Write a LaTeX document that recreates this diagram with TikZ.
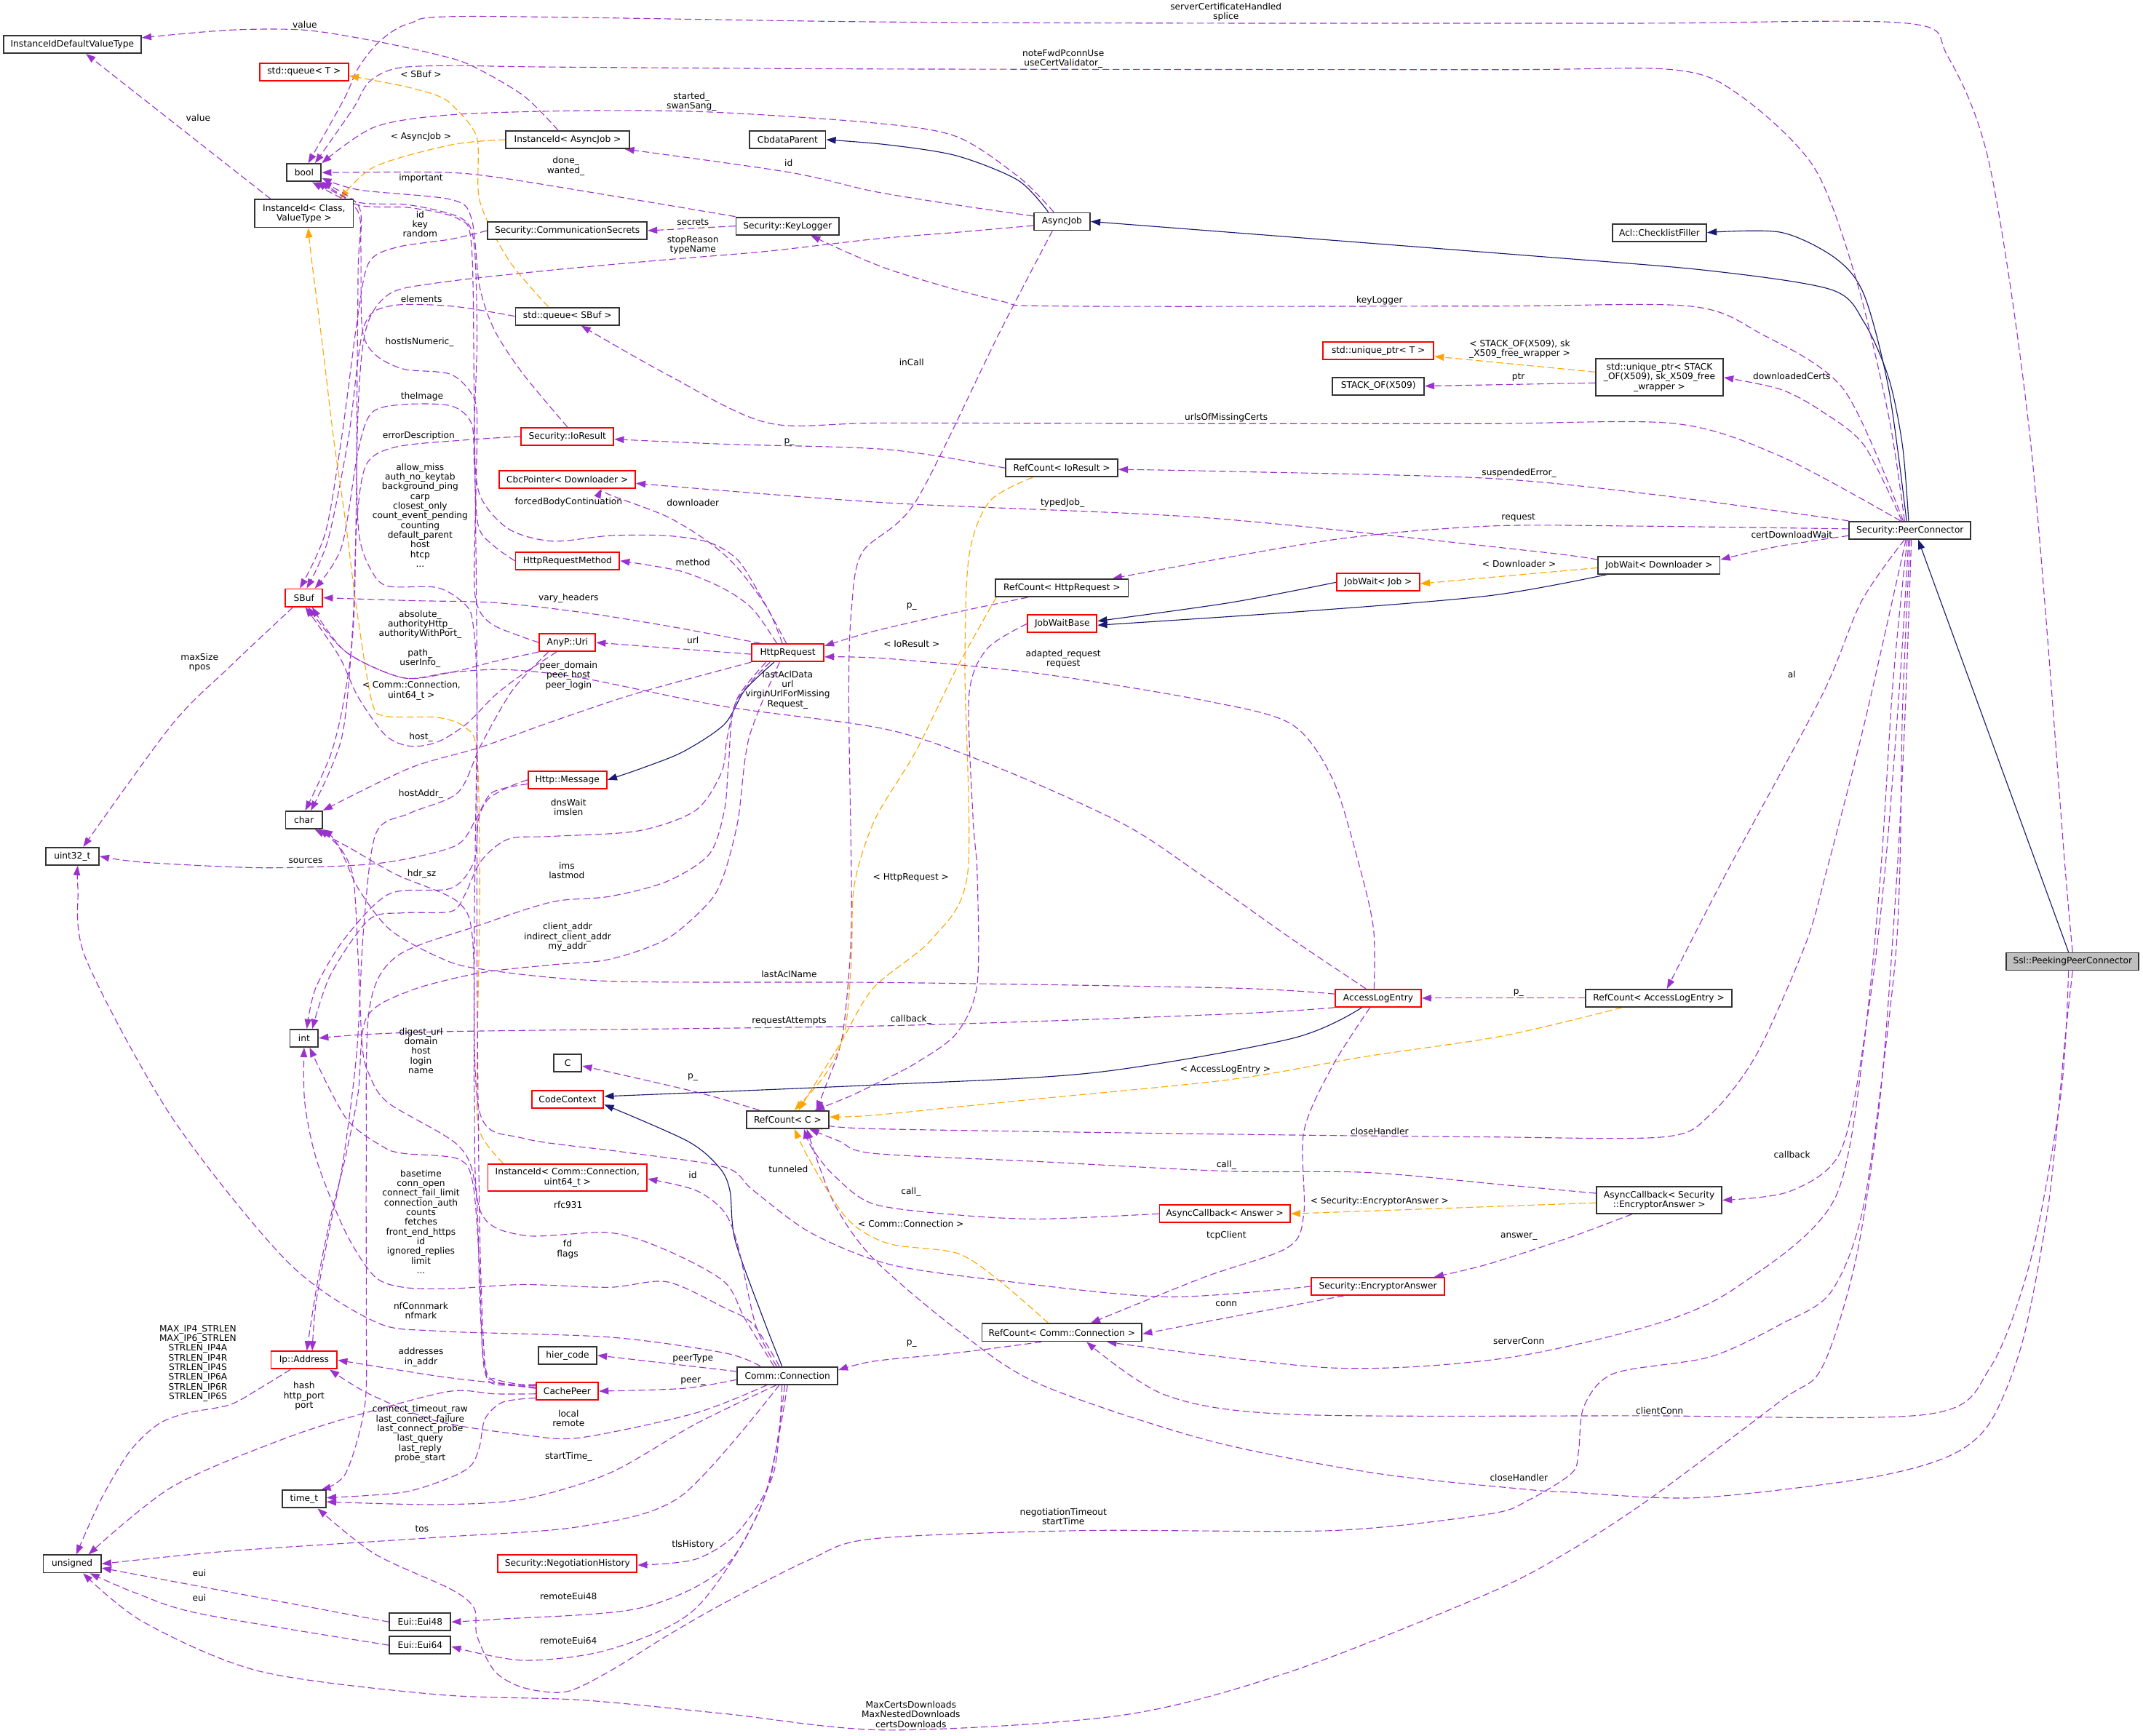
\documentclass[tikz,border=0pt]{standalone}
\usepackage{fontspec}
\setmainfont{DejaVu Sans}
\usetikzlibrary{arrows.meta}
\definecolor{purp}{HTML}{9A32CD}
\definecolor{navy}{HTML}{191970}
\definecolor{orng}{HTML}{FFA500}
\newcommand{\dv}{\fontsize{6.5}{7.1}\selectfont}
\pgfdeclarelayer{bg}
\pgfsetlayers{bg,main}
\tikzset{
  cls/.style={draw=black!80, line width=1pt, fill=white, font=\dv, align=center, inner sep=0pt, minimum height=12.8pt},
  rcls/.style={cls, draw=red},
  root/.style={cls, fill=black!25},
  lbl/.style={font=\dv, align=center, inner sep=0pt},
  mbr/.style={purp, line width=0.6pt, dash pattern=on 5pt off 2.5pt, -{Triangle[length=7pt,width=5pt]}},
  tpl/.style={orng, line width=0.6pt, dash pattern=on 5pt off 2.5pt, -{Triangle[length=7pt,width=5pt]}},
  inh/.style={navy, line width=0.6pt, -{Triangle[length=7pt,width=5pt]}},
}
\begin{document}
\begin{tikzpicture}[x=1pt,y=-1pt]
\useasboundingbox (0,0) rectangle (1568,1270);

% classes
\node[cls, minimum width=100.7pt] (iidvt) at (52.9,32.5) {InstanceIdDefaultValueType};
\node[rcls, minimum width=65pt] (qT) at (222.5,52.5) {std::queue< T >};
\node[cls, minimum width=25pt] (bool) at (222.5,126.3) {bool};
\node[cls, minimum width=72pt, minimum height=20.3pt] (iicv) at (222.5,156.2) {InstanceId< Class,\\ValueType >};
\node[cls, minimum width=90.6pt] (iiaj) at (415.3,102.2) {InstanceId< AsyncJob >};
\node[cls, minimum width=55.5pt] (cbdp) at (576.3,102.2) {CbdataParent};
\node[cls, minimum width=116.6pt] (csec) at (415.1,168.8) {Security::CommunicationSecrets};
\node[cls, minimum width=75.3pt] (klog) at (576.2,165.4) {Security::KeyLogger};
\node[cls, minimum width=41.2pt] (ajob) at (777,162.1) {AsyncJob};
\node[cls, minimum width=68.7pt] (aclcf) at (1214.2,170.2) {Acl::ChecklistFiller};
\node[cls, minimum width=76pt] (qsbuf) at (415.2,231.4) {std::queue< SBuf >};
\node[rcls, minimum width=81pt] (upT) at (1008.5,256.8) {std::unique\_ptr< T >};
\node[cls, minimum width=67pt] (stack) at (1008.5,282.5) {STACK\_OF(X509)};
\node[cls, minimum width=93.3pt, minimum height=27pt] (upstack) at (1214.2,276.2) {std::unique\_ptr< STACK\\\_OF(X509), sk\_X509\_free\\\_wrapper >};
\node[rcls, minimum width=67.6pt] (ior) at (415.2,319.4) {Security::IoResult};
\node[cls, minimum width=81.8pt] (rcior) at (776.9,342.5) {RefCount< IoResult >};
\node[rcls, minimum width=99.4pt] (cbcd) at (415.1,350.7) {CbcPointer< Downloader >};
\node[cls, minimum width=89pt] (pc) at (1397.5,388) {Security::PeerConnector};
\node[rcls, minimum width=76pt] (hrm) at (415.2,410.4) {HttpRequestMethod};
\node[cls, minimum width=97pt] (rchr) at (777,430.2) {RefCount< HttpRequest >};
\node[cls, minimum width=89pt] (jwd) at (1213.9,413.5) {JobWait< Downloader >};
\node[rcls, minimum width=60.7pt] (jwj) at (1008.4,426.1) {JobWait< Job >};
\node[rcls, minimum width=27.2pt] (sbuf) at (222.4,437.4) {SBuf};
\node[rcls, minimum width=50.7pt] (jwb) at (777.2,456.5) {JobWaitBase};
\node[rcls, minimum width=41pt] (uri) at (415.2,470.2) {AnyP::Uri};
\node[rcls, minimum width=52.7pt] (hreq) at (576.4,477.7) {HttpRequest};
\node[rcls, minimum width=57.6pt] (hmsg) at (415.2,570.7) {Http::Message};
\node[cls, minimum width=26.8pt] (chr) at (222.4,600) {char};
\node[cls, minimum width=39pt] (u32) at (52.9,626.6) {uint32\_t};
\node[root, minimum width=97pt] (ssl) at (1516.5,703.6) {Ssl::PeekingPeerConnector};
\node[rcls, minimum width=62.7pt] (ale) at (1008.4,730.4) {AccessLogEntry};
\node[cls, minimum width=107pt] (rcale) at (1213.7,730.4) {RefCount< AccessLogEntry >};
\node[cls, minimum width=20.6pt] (int) at (222.5,759.7) {int};
\node[cls, minimum width=20.6pt] (cC) at (415.3,778) {C};
\node[rcls, minimum width=52.6pt] (cctx) at (415.3,804.3) {CodeContext};
\node[cls, minimum width=60.5pt] (rcc) at (576.3,819.3) {RefCount< C >};
\node[rcls, minimum width=116.4pt, minimum height=19.8pt] (iicc) at (415.2,861.7) {InstanceId< Comm::Connection,\\uint64\_t >};
\node[cls, minimum width=91.6pt, minimum height=19.6pt] (acsea) at (1214,878.2) {AsyncCallback< Security\\::EncryptorAnswer >};
\node[rcls, minimum width=95.6pt] (aca) at (896.2,888.2) {AsyncCallback< Answer >};
\node[rcls, minimum width=97.2pt] (ea) at (1008.2,941.3) {Security::EncryptorAnswer};
\node[cls, minimum width=117pt] (rccc) at (777,975.1) {RefCount< Comm::Connection >};
\node[cls, minimum width=42.6pt] (hier) at (415.3,991.8) {hier\_code};
\node[rcls, minimum width=48.4pt] (ipa) at (222.5,995.3) {Ip::Address};
\node[cls, minimum width=73.3pt] (conn) at (576.2,1006.6) {Comm::Connection};
\node[rcls, minimum width=45.5pt] (cpeer) at (415,1018) {CachePeer};
\node[cls, minimum width=32pt] (timet) at (222.5,1097) {time\_t};
\node[cls, minimum width=42.3pt] (uns) at (52.8,1144.4) {unsigned};
\node[rcls, minimum width=101.7pt] (neg) at (415.2,1144.3) {Security::NegotiationHistory};
\node[cls, minimum width=44.7pt] (eui48) at (307.4,1186.9) {Eui::Eui48};
\node[cls, minimum width=44.7pt] (eui64) at (307.4,1203.9) {Eui::Eui64};

% edge labels
\node[lbl] (lSrvCert) at (897,9) {serverCertificateHandled\\splice};
\node[lbl] (lFwd) at (778,43) {noteFwdPconnUse\\useCertValidator\_};
\node[lbl] (lVal1) at (223,18) {value};
\node[lbl] (lVal2) at (145,86) {value};
\node[lbl] (lQsb) at (308,54.3) {< SBuf >};
\node[lbl] (lStart) at (506,74.5) {started\_\\swanSang\_};
\node[lbl] (lAJ) at (308,100) {< AsyncJob >};
\node[lbl] (lJobId) at (577,119) {id};
\node[lbl] (lDone) at (414,121.5) {done\_\\wanted\_};
\node[lbl] (lImp) at (308,130.5) {important};
\node[lbl] (lSec) at (507,162.5) {secrets};
\node[lbl] (lIdKey) at (307.4,164) {id\\key\\random};
\node[lbl] (lStop) at (507,179.5) {stopReason\\typeName};
\node[lbl] (lElem) at (308.4,219) {elements};
\node[lbl] (lKeyLog) at (1009.4,220) {keyLogger};
\node[lbl] (lHostNum) at (307,250.5) {hostIsNumeric\_};
\node[lbl] (lStack) at (1112,255.4) {< STACK\_OF(X509), sk\\\_X509\_free\_wrapper >};
\node[lbl] (lInCall) at (667,265) {inCall};
\node[lbl] (lDlCerts) at (1311,275.4) {downloadedCerts};
\node[lbl] (lPtr) at (1111,275.8) {ptr};
\node[lbl] (lImage) at (308.8,290.5) {theImage};
\node[lbl] (lUrls) at (897.2,305.5) {urlsOfMissingCerts};
\node[lbl] (lErrDesc) at (306.3,319) {errorDescription};
\node[lbl] (lIorP) at (577.4,323.5) {p\_};
\node[lbl] (lSusp) at (1111.5,346.2) {suspendedError\_};
\node[lbl] (lForced) at (416,367.3) {forcedBodyContinuation};
\node[lbl] (lDownl) at (507,367.7) {downloader};
\node[lbl] (lTyped) at (777.4,367.8) {typedJob\_};
\node[lbl] (lAllow) at (307.4,377) {allow\_miss\\auth\_no\_keytab\\background\_ping\\carp\\closest\_only\\count\_event\_pending\\counting\\default\_parent\\host\\htcp\\...};
\node[lbl] (lReq) at (1111,378.8) {request};
\node[lbl] (lCertDW) at (1311,391.4) {certDownloadWait};
\node[lbl] (lMethod) at (507,411.7) {method};
\node[lbl] (lDownT) at (1111.5,412.6) {< Downloader >};
\node[lbl] (lVary) at (416,437.6) {vary\_headers};
\node[lbl] (lHrP) at (667,444) {p\_};
\node[lbl] (lAbs) at (307.4,467.7) {absolute\_\\authorityHttp\_\\authorityWithPort\_\\\mbox{}\\path\_\\userInfo\_};
\node[lbl] (lUrl) at (507,468.3) {url};
\node[lbl] (lIorT) at (667,471.3) {< IoResult >};
\node[lbl] (lAdapt) at (778,482.3) {adapted\_request\\request};
\node[lbl] (lMaxSz) at (146,484.8) {maxSize\\npos};
\node[lbl] (lAl) at (1311,493.7) {al};
\node[lbl] (lPeerDom) at (416,494.5) {peer\_domain\\peer\_host\\peer\_login};
\node[lbl] (lAclData) at (576.3,504.7) {lastAclData\\url\\virginUrlForMissing\\Request\_};
\node[lbl] (lIiccT) at (301,505.5) {< Comm::Connection,\\uint64\_t >};
\node[lbl] (lHost) at (308,539.5) {host\_};
\node[lbl] (lHostAddr) at (308,581) {hostAddr\_};
\node[lbl] (lDns) at (416,590.7) {dnsWait\\imslen};
\node[lbl] (lSrc) at (223.6,630) {sources};
\node[lbl] (lIms) at (414.7,636.9) {ims\\lastmod};
\node[lbl] (lHdr) at (308.6,639.7) {hdr\_sz};
\node[lbl] (lHrT) at (666.5,642) {< HttpRequest >};
\node[lbl] (lClient) at (415.3,685.8) {client\_addr\\indirect\_client\_addr\\my\_addr};
\node[lbl] (lAclName) at (577.4,713) {lastAclName};
\node[lbl] (lAleP) at (1111,726.3) {p\_};
\node[lbl] (lCbk) at (666.5,746) {callback\_};
\node[lbl] (lReqAtt) at (577.4,747) {requestAttempts};
\node[lbl] (lDigest) at (308,769) {digest\_url\\domain\\host\\login\\name};
\node[lbl] (lAleT) at (896.6,782.7) {< AccessLogEntry >};
\node[lbl] (lCP) at (506.9,788.5) {p\_};
\node[lbl] (lClose1) at (1009.4,827.8) {closeHandler};
\node[lbl] (lCallback) at (1311.2,844.7) {callback};
\node[lbl] (lCall1) at (897.3,852.7) {call\_};
\node[lbl] (lTunnel) at (576.8,855.8) {tunneled};
\node[lbl] (lConnId) at (506.9,860) {id};
\node[lbl] (lCall2) at (666.5,872) {call\_};
\node[lbl] (lEaT) at (1009.4,878.9) {< Security::EncryptorAnswer >};
\node[lbl] (lRfc) at (415.7,881.5) {rfc931};
\node[lbl] (lBase) at (308,894) {basetime\\conn\_open\\connect\_fail\_limit\\connection\_auth\\counts\\fetches\\front\_end\_https\\id\\ignored\_replies\\limit\\...};
\node[lbl] (lCcT) at (666.5,895.4) {< Comm::Connection >};
\node[lbl] (lTcp) at (897.3,904.2) {tcpClient};
\node[lbl] (lAnswer) at (1111.3,904.6) {answer\_};
\node[lbl] (lFd) at (415.3,914.3) {fd\\flags};
\node[lbl] (lConn) at (897.3,954) {conn};
\node[lbl] (lNf) at (308,959) {nfConnmark\\nfmark};
\node[lbl] (lSrvConn) at (1111.3,981.5) {serverConn};
\node[lbl] (lCcP) at (667,983) {p\_};
\node[lbl] (lAddr) at (308,993.2) {addresses\\in\_addr};
\node[lbl] (lPeerType) at (507,994) {peerType};
\node[lbl] (lMaxIp) at (144.8,997.6) {MAX\_IP4\_STRLEN\\MAX\_IP6\_STRLEN\\STRLEN\_IP4A\\STRLEN\_IP4R\\STRLEN\_IP4S\\STRLEN\_IP6A\\STRLEN\_IP6R\\STRLEN\_IP6S};
\node[lbl] (lPeer) at (507,1010.7) {peer\_};
\node[lbl] (lHash) at (222.5,1021.6) {hash\\http\_port\\port};
\node[lbl] (lCliConn) at (1214.3,1032.2) {clientConn};
\node[lbl] (lLocal) at (416,1037.9) {local\\remote};
\node[lbl] (lConnT) at (307.4,1049.4) {connect\_timeout\_raw\\last\_connect\_failure\\last\_connect\_probe\\last\_query\\last\_reply\\probe\_start};
\node[lbl] (lStartT) at (416,1066.3) {startTime\_};
\node[lbl] (lClose2) at (1111.3,1081.3) {closeHandler};
\node[lbl] (lNego) at (778,1109.7) {negotiationTimeout\\startTime};
\node[lbl] (lTos) at (308.8,1119) {tos};
\node[lbl] (lTls) at (507,1130.3) {tlsHistory};
\node[lbl] (lEui1) at (145.9,1151) {eui};
\node[lbl] (lEui48) at (416,1168) {remoteEui48};
\node[lbl] (lEui2) at (145.9,1169) {eui};
\node[lbl] (lEui64) at (416,1200.4) {remoteEui64};
\node[lbl] (lMaxC) at (666.5,1254.5) {MaxCertsDownloads\\MaxNestedDownloads\\certsDownloads};

\begin{pgfonlayer}{bg}
% Ssl::PeekingPeerConnector
\draw[inh] ([xshift=-3pt]ssl.north) -- ([xshift=6pt]pc.south);
\draw[mbr] plot[smooth] coordinates {(ssl.north) (1511,635) (1486,326) (1456,122) (1425,41) (1395,17) (1200,17) (900,17) (640,16) (345,12) (300,17) (278,30) (262,50) (252,72) ([xshift=3pt]bool.north)};
\draw[mbr] plot[smooth] coordinates {([xshift=-3pt]ssl.south) (1508,800) (1486,921) (1456,1001) (1410,1035) (1200,1036) (945,1035) (853,1021) ([xshift=18pt]rccc.south)};
\draw[mbr] plot[smooth] coordinates {(ssl.south) (1511,760) (1499,880) (1480,981) (1456,1041) (1425,1066) (1364,1082) (1242,1096) (1150,1092) (1118,1090) (1006,1078) (884,1054) (761,1013) (700,973) (639,921) (610,880) ([xshift=14pt]rcc.south)};

% Security::PeerConnector
\draw[inh] plot[smooth] coordinates {([xshift=-1pt]pc.north) (1392,326) (1382,277) (1364,236) (1340,212) (1250,198) (1118,187) (ajob.east)};
\draw[inh] plot[smooth] coordinates {([xshift=-2.5pt]pc.north) (1382,285) (1364,216) (1343,189) (1303,170) (aclcf.east)};
\draw[mbr] plot[smooth] coordinates {([xshift=-4pt]pc.north) (1382,305) (1358,204) (1327,122) (1272,69) (1224,51) (1089,51) (650,50.5) (400,49) (330,48) (290,50) (270,60) (258,80) ([xshift=8pt]bool.north)};
\draw[mbr] plot[smooth] coordinates {([xshift=-5pt]pc.north) (1349,285) (1288,244) (1236,224) (1089,224) (777,224) (731,220) (650,197) ([xshift=17pt]klog.south)};
\draw[mbr] plot[smooth] coordinates {([xshift=-6pt]pc.north) (1364,326) (1333,301) (1303,285) (upstack.east)};
\draw[mbr] plot[smooth] coordinates {([xshift=-7pt]pc.north) (1303,334) (1226,310) (1089,310) (900,310) (650,309.5) (562,309.5) (488,274) ([xshift=10pt]qsbuf.south)};
\draw[mbr] plot[smooth] coordinates {(pc.north west) (1211,362) (1089,350) (900,345) ([yshift=-1pt]rcior.east)};
\draw[mbr] plot[smooth] coordinates {([yshift=1pt]pc.west) (1200,385) (1089,385) (975,395) ([xshift=-12pt]rchr.north east)};
\draw[mbr] plot[smooth] coordinates {([yshift=-4pt]pc.west) (1300,400) ([yshift=4pt]jwd.east)};
\draw[mbr] plot[smooth] coordinates {([xshift=-4pt]pc.south) (1362,440) (1333,509) (1263,639) ([xshift=6pt]rcale.north)};
\draw[mbr] plot[smooth] coordinates {([xshift=-3pt]pc.south) (1364,530) (1336,639) (1321,691) (1285,772) (1251,816) (1217,832) (1089,832) (900,830) (639,826) ([yshift=-3pt]rcc.east)};
\draw[mbr] plot[smooth] coordinates {([xshift=-2pt]pc.south) (1385,500) (1376,639) (1364,760) (1346,844) (1309,872) (acsea.east)};
\draw[mbr] plot[smooth] coordinates {([xshift=-1pt]pc.south) (1390,500) (1379,639) (1367,740) (1343,876) (1272,941) (1211,969) (1100,994) (975,1001) ([xshift=33pt]rccc.south)};
\draw[mbr] plot[smooth] coordinates {(pc.south) (1392,520) (1390,639) (1385,720) (1364,880) (1340,945) (1303,969) (1251,993) (1181,1005) (1159,1029) (1155,1062) (1150,1078) (1118,1098) (1089,1108) (975,1120) (792,1120) (639,1126) (593,1141) (530,1173) (488,1197) (446,1223) (414,1238) (383,1235) (362,1223) (349,1197) (347,1177) (330,1163) (274,1137) ([xshift=10pt]timet.south)};
\draw[mbr] plot[smooth] coordinates {([xshift=1pt]pc.south) (1394,520) (1388,639) (1376,800) (1358,921) (1333,1001) (1303,1025) (1211,1094) (1150,1134) (1089,1166) (945,1223) (822,1255) (650,1266) (530,1254) (425,1244) (320,1240) (190,1223) (105,1187) ([xshift=8pt]uns.south)};

% AsyncJob and KeyLogger
\draw[inh] plot[smooth] coordinates {([xshift=-10pt]ajob.north) (745,132) (700,114) (650,106) (cbdp.east)};
\draw[mbr] plot[smooth] coordinates {([xshift=-6pt]ajob.north) (746,130) (700,100) (640,90) (520,82) (425,81) (330,84) (274,93) (bool.north east)};
\draw[mbr] plot[smooth] coordinates {([yshift=4pt]ajob.west) (700,150) (639,140) (577,126) ([xshift=-4pt]iiaj.south east)};
\draw[mbr] plot[smooth] coordinates {([yshift=-3pt]ajob.west) (700,170) (639,175) (560,184) (488,190) (400,198) (320,207) (285,215) (268,240) (262,300) (259,450) (252,510) (242,552) ([xshift=1pt]chr.north)};
\draw[mbr] plot[smooth] coordinates {([xshift=-7pt]ajob.south) (731,244) (670,367) (631,404) (623,446) (621,509) (623,648) (622,700) (616,760) (604,795) ([xshift=21pt]rcc.north)};
\draw[mbr] (klog.west) -- (csec.east);
\draw[mbr] plot[smooth] coordinates {(klog.north west) (446,143) (362,129.5) (320,126) (bool.east)};

% left column templates and members
\draw[mbr] plot[smooth] coordinates {(csec.west) (330,175) (290,181) (270,192) (262,230) (250,320) (238,390) ([xshift=-3pt]sbuf.north)};
\draw[mbr] plot[smooth] coordinates {(qsbuf.west) (330,224) (285,224) (266,240) (255,320) (240,395) ([xshift=2pt]sbuf.north)};
\draw[tpl] plot[smooth] coordinates {([xshift=-14pt]qsbuf.north) (372,190) (351,147) (349,101) (332,78) (320,70) (295,63) ([yshift=-3pt]qT.east)};
\draw[tpl] plot[smooth] coordinates {(iiaj.west) (330,106) (274,122) ([xshift=-10pt]iicv.north east)};
\draw[mbr] plot[smooth] coordinates {([xshift=-7pt]iiaj.north) (383,70) (345,48) (320,40) (274,30) (223,22) (168,22) ([yshift=-2pt]iidvt.north east)};
\draw[mbr] ([xshift=12pt]iicv.north west) -- ([xshift=10pt]iidvt.south);
\draw[tpl] plot[smooth] coordinates {([xshift=-47pt]iicc.north) (351,828) (349,786) (351,650) (349,551) (340,532) (320,525) (282,524) (272,513) (261,446) (253,383) (244,320) (236,253) (228,190) ([xshift=3pt]iicv.south)};
\draw[mbr] plot[smooth] coordinates {(ior.north) (383,274) (362,242) (351,210) (345,160) (330,146) (263,139) ([yshift=-4pt]bool.east)};
\draw[mbr] plot[smooth] coordinates {(ior.west) (340,322) (290,327) (268,340) (261,383) (258,460) (250,540) ([xshift=5pt]chr.north)};
\draw[mbr] plot[smooth] coordinates {(hrm.west) (362,400) (350,385) (347,340) (345,310) (330,297) (295,296) (272,302) (262,330) (250,400) ([xshift=8pt]sbuf.north)};
\draw[mbr] plot[smooth] coordinates {([xshift=-8pt]sbuf.south) (168,488) (126,530) ([xshift=8pt]u32.north)};

% RefCount< IoResult >, RefCount< HttpRequest >, JobWait
\draw[mbr] plot[smooth] coordinates {(rcior.west) (650,329) (530,325) ([yshift=-2pt]ior.east)};
\draw[tpl] plot[smooth] coordinates {([xshift=20pt]rcior.south west) (724,367) (709,407) (706,489) (708,639) (682,687) (639,723) (614,765) ([xshift=8pt]rcc.north)};
\draw[mbr] plot[smooth] coordinates {([xshift=-25pt]rchr.south) (700,448) (639,462) ([yshift=5pt]hreq.east)};
\draw[tpl] plot[smooth] coordinates {([xshift=-48pt]rchr.south) (700,489) (670,550) (640,600) (625,648) (623,702) (618,755) (604,786) ([xshift=5pt]rcc.north)};
\draw[mbr] plot[smooth] coordinates {([yshift=4pt]jwd.west) (1119,403) (884,379) (650,368) ([yshift=-3pt]cbcd.east)};
\draw[tpl] ([yshift=-2pt]jwd.west) -- ([yshift=-1pt]jwj.east);
\draw[inh] plot[smooth] coordinates {([xshift=7pt]jwd.south west) (1089,436) (945,448) ([yshift=-1pt]jwb.east)};
\draw[inh] plot[smooth] coordinates {(jwj.west) (900,441) ([yshift=2pt]jwb.east)};
\draw[mbr] plot[smooth] coordinates {(jwb.west) (722,475) (709,509) (712,600) (715,639) (715,720) (700,756) (670,778) (639,794) (620,803) ([xshift=20pt]rcc.north)};
\draw[tpl] ([yshift=4pt]upstack.west) -- ([yshift=-4pt]upT.east);
\draw[mbr] ([yshift=-4pt]upstack.west) -- (stack.east);

% HttpRequest
\draw[mbr] plot[smooth] coordinates {([xshift=-4pt]hreq.north) (562,446) (540,416) (519,397) (488,378) (446,362) ([xshift=25pt]cbcd.south)};
\draw[mbr] plot[smooth] coordinates {([xshift=-8pt]hreq.north) (551,446) (530,431) (498,418) (hrm.east)};
\draw[mbr] plot[smooth] coordinates {([xshift=-1pt]hreq.north) (557,437) (540,410) (519,397) (488,392) (446,392) (404,396) (372,387) (351,362) (347,320) (349,250) (347,180) (338,160) (300,150) (262,148) ([xshift=-4pt]bool.south east)};
\draw[mbr] plot[smooth] coordinates {([xshift=7pt]hreq.north west) (488,458) (425,448) (362,441) (300,439.5) (sbuf.east)};
\draw[mbr] ([yshift=-1pt]hreq.west) -- (uri.east);
\draw[mbr] plot[smooth] coordinates {(hreq.south west) (467,507) (404,528) (351,547) (300,562) (chr.north east)};
\draw[inh] plot[smooth] coordinates {([xshift=-10pt]hreq.south) (545,505) (530,530) (500,550) (470,562) (hmsg.east)};
\draw[mbr] plot[smooth] coordinates {([xshift=-6pt]hreq.south) (548,540) (540,600) (530,639) (519,660) (488,687) (446,702) (404,706) (351,712) (300,725) (268,745) (262,800) (252,850) (242,890) (232,940) ([xshift=2pt]ipa.north)};
\draw[mbr] plot[smooth] coordinates {([xshift=-16pt]hreq.south) (540,510) (532,540) (528,565) (509,593) (467,608) (404,612) (372,614) (352,630) (340,655) (330,667) (295,668) (270,673) (242,713) ([xshift=6pt]int.north)};
\draw[mbr] plot[smooth] coordinates {([xshift=-13pt]hreq.south) (538,515) (533,560) (530,593) (519,625) (488,645) (446,656) (404,660) (351,677) (290,700) (270,740) (268,850) (268,960) (267,1028) (253,1078) ([xshift=-4pt]timet.north east)};

% Http::Message and AnyP::Uri
\draw[mbr] plot[smooth] coordinates {(hmsg.west) (372,576) (357,585) (350,600) (347,630) (330,650) (285,654) (252,687) (231,723) ([xshift=2pt]int.north)};
\draw[mbr] plot[smooth] coordinates {([yshift=-3pt]hmsg.west) (360,580) (348,600) (335,618) (300,628) (263,633) (190,635) (105,631) (u32.east)};
\draw[mbr] plot[smooth] coordinates {(uri.west) (362,458) (350,445) (347,420) (349,320) (347,292) (330,274) (295,270) (274,259) (265,240) (264,180) (262,150) (bool.south east)};
\draw[mbr] plot[smooth] coordinates {(uri.south west) (362,484) (330,492) (295,496) (253,477) ([xshift=6pt]sbuf.south)};
\draw[mbr] plot[smooth] coordinates {([xshift=-8pt]uri.south) (380,495) (362,509) (341,530) (320,543) (300,546) (282,538) (262,510) (248,480) ([xshift=1pt]sbuf.south)};
\draw[mbr] plot[smooth] coordinates {([xshift=-14pt]uri.south) (375,505) (352,545) (335,580) (300,595) (275,610) (266,680) (261,770) (251,850) (240,905) (231,955) ([xshift=6pt]ipa.north)};

% AccessLogEntry
\draw[mbr] (rcale.west) -- (ale.east);
\draw[tpl] plot[smooth] coordinates {([xshift=27pt]rcale.south west) (1100,758) (1000,773) (900,790) (750,805) (640,816) ([yshift=2pt]rcc.east)};
\draw[mbr] plot[smooth] coordinates {([yshift=3pt]ale.west) (900,723) (650,719) (446,718) (351,709) (320,700) (285,680) (262,650) (248,620) ([xshift=-3pt]chr.south east)};
\draw[mbr] plot[smooth] coordinates {(ale.south west) (900,742) (650,750.6) (320,755) (int.east)};
\draw[inh] plot[smooth] coordinates {([xshift=-12pt]ale.south) (945,760) (800,785) (639,794) ([yshift=2pt]cctx.east)};
\draw[mbr] plot[smooth] coordinates {([xshift=-3pt]ale.north) (1005,680) (995,635) (975,570) (945,530) (883,513) (761,493) (650,482) ([yshift=-3pt]hreq.east)};
\draw[mbr] plot[smooth] coordinates {([xshift=-9pt]ale.north) (945,687) (877,639) (822,603) (731,562) (650,534) (530,517) (425,496) (370,490) (330,492) (295,496) (253,477) ([xshift=3pt]sbuf.south)};
\draw[mbr] plot[smooth] coordinates {([xshift=-6pt]ale.south) (975,780) (954,828) (954,888) (942,913) (880,935) ([xshift=21pt]rccc.north)};

% callbacks and answers
\draw[tpl] ([yshift=-2pt]acsea.west) -- (aca.east);
\draw[mbr] plot[smooth] coordinates {([yshift=5pt]acsea.west) (1100,867) (1001,858) (897,857) (760,850) (639,844) (614,835) ([xshift=16pt]rcc.south)};
\draw[mbr] plot[smooth] coordinates {([xshift=-20pt]acsea.south) (1150,905) (1089,925) ([xshift=-8pt]ea.north east)};
\draw[mbr] plot[smooth] coordinates {(aca.west) (761,892) (700,889) (639,881) (610,860) (594,840) ([xshift=12pt]rcc.south)};
\draw[mbr] plot[smooth] coordinates {([xshift=-25pt]ea.south) (915,961) ([yshift=-1pt]rccc.east)};
\draw[mbr] plot[smooth] coordinates {(ea.west) (853,949) (731,937) (650,925) (593,902) (551,871) (530,854) (456,843) (383,833) (351,814) (347,700) (349,509) (347,300) (345,180) (335,160) (300,152) (262,150) ([xshift=-7pt]bool.south east)};

% RefCount< Comm::Connection > and RefCount< C >
\draw[mbr] plot[smooth] coordinates {([xshift=-15pt]rccc.south) (700,990) (640,996) ([yshift=4pt]conn.east)};
\draw[tpl] plot[smooth] coordinates {([xshift=-10pt]rccc.north) (731,937) (700,917) (650,910) (620,892) (593,850) ([xshift=5pt]rcc.south)};
\draw[mbr] plot[smooth] coordinates {([xshift=10pt]rcc.north west) (509,799) ([yshift=-2pt]cC.east)};

% Comm::Connection
\draw[inh] plot[smooth] coordinates {([xshift=-4pt]conn.north) (560,969) (538,908) (534,871) (526,854) (503,835) ([yshift=-4pt]cctx.east)};
\draw[mbr] plot[smooth] coordinates {([xshift=-8pt]conn.north) (553,970) (540,912) (530,887) (509,871) ([yshift=-1pt]iicc.east)};
\draw[mbr] plot[smooth] coordinates {([xshift=-10pt]conn.north) (545,965) (530,938) (488,915) (446,902) (383,904) (351,885) (347,800) (346,690) (335,660) (290,640) (255,620) ([xshift=-6pt]chr.south east)};
\draw[mbr] plot[smooth] coordinates {([xshift=-6pt]conn.north) (551,969) (530,957) (488,938) (446,942) (383,940) (330,943) (295,942) (274,934) (253,902) (232,850) (223,807) (int.south)};
\draw[mbr] plot[smooth] coordinates {([xshift=-20pt]conn.north) (530,990) (446,978.5) (320,974) (274,967) (210,923) (126,818) (63,702) (57,650) ([xshift=4pt]u32.south)};
\draw[mbr] ([yshift=3pt]conn.west) -- (hier.east);
\draw[mbr] plot[smooth] coordinates {([yshift=-3pt]conn.west) (500,1016) (cpeer.east)};
\draw[mbr] plot[smooth] coordinates {([xshift=-15pt]conn.south) (509,1034) (425,1052) (383,1050) (320,1040) (270,1020) ([xshift=-6pt]ipa.south east)};
\draw[mbr] plot[smooth] coordinates {([xshift=-8pt]conn.south) (509,1042) (446,1078) (383,1097) (320,1101) ([yshift=-2pt]timet.east)};
\draw[mbr] plot[smooth] coordinates {([xshift=-6pt]conn.south) (498,1095) (425,1117) (320,1125) (168,1135) (uns.east)};
\draw[mbr] plot[smooth] coordinates {([xshift=-4pt]conn.south) (566,1078) (540,1121) (509,1141) ([yshift=-1pt]neg.east)};
\draw[mbr] plot[smooth] coordinates {([xshift=-2pt]conn.south) (562,1088) (530,1147) (467,1177) (362,1185) (eui48.east)};
\draw[mbr] plot[smooth] coordinates {(conn.south) (557,1102) (509,1177) (446,1207) (383,1215) ([yshift=-1pt]eui64.east)};

% CachePeer
\draw[mbr] plot[smooth] coordinates {([yshift=2pt]cpeer.west) (362,1012) (320,1007) (ipa.east)};
\draw[mbr] plot[smooth] coordinates {([yshift=-2pt]cpeer.west) (362,1020) (330,1018) (274,1032) (210,1052) (126,1088) ([xshift=12pt]uns.north)};
\draw[mbr] plot[smooth] coordinates {([yshift=-5pt]cpeer.west) (368,1026) (355,1038) (351,1058) (345,1072) (330,1081) (295,1092) ([yshift=1pt]timet.east)};
\draw[mbr] plot[smooth] coordinates {([yshift=3pt]cpeer.west) (376,1014) (358,1011) (353,990) (351,930) (346,866) (335,848) (295,844) (280,839) (253,818) ([xshift=4pt]int.south)};
\draw[mbr] plot[smooth] coordinates {([yshift=4pt]cpeer.west) (378,1013.5) (360,1010) (354,995) (351,950) (348,870) (335,838) (284,807) (270,786) (265,765) (262,700) (258,640) (245,615) (chr.south east)};
\draw[mbr] plot[smooth] coordinates {([yshift=5pt]cpeer.west) (380,1013) (362,1009) (355,1000) (351,900) (349,700) (349,509) (346,456) (340,442) (320,430) (284,429) (272,418) (263,393) (261,340) (262,200) (262,155) ([xshift=-2pt]bool.south east)};

% Ip::Address and Eui
\draw[mbr] plot[smooth] coordinates {([xshift=-10pt]ipa.south) (190,1016) (168,1028) (137,1034) (116,1042) (95,1062) (74,1097) ([xshift=3pt]uns.north)};
\draw[mbr] plot[smooth] coordinates {(eui48.west) (168,1165) ([yshift=-3pt]uns.east)};
\draw[mbr] plot[smooth] coordinates {(eui64.west) (147,1181) (100,1166) ([xshift=13pt]uns.south)};
\end{pgfonlayer}
\end{tikzpicture}
\end{document}
